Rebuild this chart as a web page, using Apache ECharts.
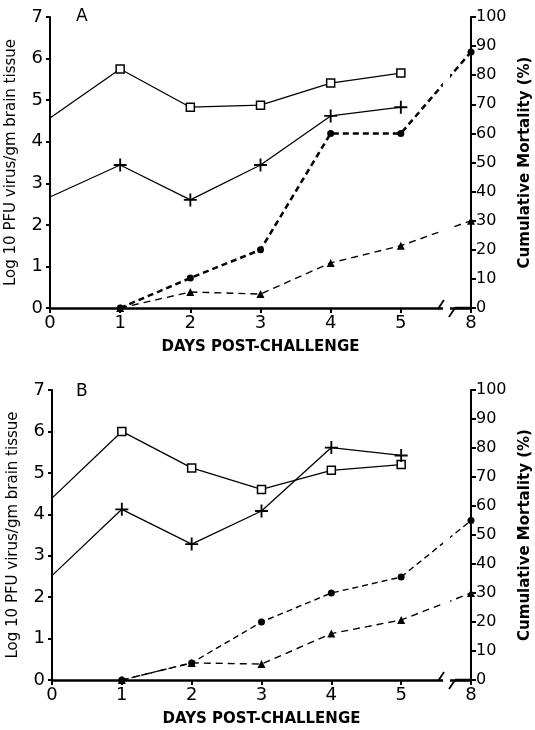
<!DOCTYPE html>
<html><head><meta charset="utf-8">
<script src="https://cdn.jsdelivr.net/npm/echarts@6/dist/echarts.min.js"></script>
<style>html,body{margin:0;padding:0;background:#fff}#c{width:535px;height:730px}</style>
</head><body><div id="c"></div>
<script>
// Days post-challenge (x axis has a break between 5 and 8)
const virusDays = [0, 1, 2, 3, 4, 5];
const mortDays = [1, 2, 3, 4, 5, 8];
const xTicks = [0, 1, 2, 3, 4, 5, 8];
const leftTicks = [0, 1, 2, 3, 4, 5, 6, 7];
const rightTicks = [0, 10, 20, 30, 40, 50, 60, 70, 80, 90, 100];

// Panel A
const aSquares = [4.57, 5.75, 4.83, 4.88, 5.41, 5.65];
const aCrosses = [2.67, 3.44, 2.6, 3.44, 4.62, 4.83];
const aCircles = [0, 10.3, 20, 60, 60, 88];
const aTriangles = [0, 5.5, 4.8, 15.5, 21.4, 30];

// Panel B
const bSquares = [4.39, 6.0, 5.12, 4.6, 5.06, 5.2];
const bCrosses = [2.52, 4.12, 3.28, 4.08, 5.61, 5.42];
const bCircles = [0, 5.9, 20, 30, 35.5, 55];
const bTriangles = [0, 5.9, 5.5, 16, 20.7, 30];

// axis break: day 8 is drawn one unit after day 5
function axisPos(d) { return d <= 5 ? d : 6; }
function pairs(ds, vs, hideFirst) {
  return ds.map((d, i) => {
    const item = { value: [axisPos(d), vs[i]] };
    if (hideFirst && i === 0) item.symbol = 'none';
    return item;
  });
}

const FONT = 'DejaVu Sans';
const plusPath = 'path://M-1,-7h2v6h6v2h-6v6h-2v-6h-6v-2h6z';

function makeX(gi) {
  return {
    type: 'value', gridIndex: gi, min: 0, max: 6, interval: 1,
    name: 'DAYS POST-CHALLENGE', nameLocation: 'middle', nameGap: 32,
    nameTextStyle: { fontFamily: FONT, fontSize: 15, fontWeight: 'bold', color: '#000' },
    axisLine: { show: true, lineStyle: { color: '#000', width: 2.5 } },
    axisTick: { show: true, inside: false, length: 5, lineStyle: { color: '#000', width: 2 } },
    axisLabel: { fontFamily: FONT, fontSize: 18, color: '#000', margin: 6,
      formatter: v => (v === 6 ? String(xTicks[6]) : (v <= 5 ? String(xTicks[v]) : '')) },
    splitLine: { show: false }
  };
}
function makeYL(gi) {
  return {
    type: 'value', gridIndex: gi, min: 0, max: 7, interval: 1, position: 'left',
    name: 'Log 10 PFU virus/gm brain tissue', nameLocation: 'middle', nameGap: 31, nameRotate: 90,
    nameTextStyle: { fontFamily: FONT, fontSize: 15, color: '#000' },
    axisLine: { show: true, lineStyle: { color: '#000', width: 2 } },
    axisTick: { show: true, length: 4, lineStyle: { color: '#000', width: 2 } },
    axisLabel: { fontFamily: FONT, fontSize: 18, color: '#000', margin: 7,
      formatter: v => String(leftTicks[v]) },
    splitLine: { show: false }
  };
}
function makeYR(gi) {
  return {
    type: 'value', gridIndex: gi, min: 0, max: 100, interval: 10, position: 'right',
    name: 'Cumulative Mortality (%)', nameLocation: 'middle', nameGap: 46, nameRotate: 90,
    nameTextStyle: { fontFamily: FONT, fontSize: 15, fontWeight: 'bold', color: '#000' },
    axisLine: { show: true, lineStyle: { color: '#000', width: 2 } },
    axisTick: { show: true, length: 5, lineStyle: { color: '#000', width: 2 } },
    axisLabel: { fontFamily: FONT, fontSize: 16, color: '#000', margin: 5,
      formatter: v => String(rightTicks[v / 10]) },
    splitLine: { show: false }
  };
}

function panelSeries(gi, sq, cr, ci, tr, circleWidth) {
  const xi = gi, yl = gi * 2, yr = gi * 2 + 1;
  return [
    { type: 'line', xAxisIndex: xi, yAxisIndex: yl, data: pairs(virusDays, sq, true),
      symbol: 'rect', symbolSize: 8, showAllSymbol: true,
      itemStyle: { color: '#fff', borderColor: '#000', borderWidth: 1.5 },
      lineStyle: { color: '#000', width: 1.3 }, z: 3 },
    { type: 'line', xAxisIndex: xi, yAxisIndex: yl, data: pairs(virusDays, cr, true),
      symbol: plusPath, symbolSize: 13,
      itemStyle: { color: '#000' },
      lineStyle: { color: '#000', width: 1.3 }, z: 3 },
    { type: 'line', xAxisIndex: xi, yAxisIndex: yr, data: pairs(mortDays, ci, false),
      symbol: 'circle', symbolSize: 7,
      itemStyle: { color: '#000' },
      lineStyle: { color: '#000', width: circleWidth, type: [6, 4] }, z: 3 },
    { type: 'line', xAxisIndex: xi, yAxisIndex: yr, data: pairs(mortDays, tr, false),
      symbol: 'triangle', symbolSize: 8,
      itemStyle: { color: '#000' },
      lineStyle: { color: '#000', width: 1.4, type: [7, 5] }, z: 3 }
  ];
}

const chart = echarts.init(document.getElementById('c'), null, { renderer: 'canvas' });
chart.setOption({
  animation: false,
  backgroundColor: '#fff',
  grid: [
    { left: 50, width: 421, top: 17, height: 291, containLabel: false, outerBoundsMode: 'none' },
    { left: 52, width: 419, top: 390, height: 290, containLabel: false, outerBoundsMode: 'none' }
  ],
  xAxis: [makeX(0), makeX(1)],
  yAxis: [makeYL(0), makeYR(0), makeYL(1), makeYR(1)],
  series: [].concat(
    panelSeries(0, aSquares, aCrosses, aCircles, aTriangles, 2.5),
    panelSeries(1, bSquares, bCrosses, bCircles, bTriangles, 1.4)
  ),
  graphic: []
});

// break marks and panel letters
const g = [];
[0, 1].forEach(gi => {
  const p1 = chart.convertToPixel({ gridIndex: gi }, [5.6, 0]);
  const p2 = chart.convertToPixel({ gridIndex: gi }, [5.7, 0]);
  const top = chart.convertToPixel({ gridIndex: gi }, [5.6, 100]);
  g.push({ type: 'rect', shape: { x: p1[0], y: top[1] - 5, width: p2[0] - p1[0], height: p1[1] - top[1] + 12 },
    style: { fill: '#fff' }, z: 100 });
  g.push({ type: 'line', shape: { x1: p1[0] - 5, y1: p1[1] + 1, x2: p1[0] + 1, y2: p1[1] - 8 },
    style: { stroke: '#000', lineWidth: 1.8 }, z: 101 });
  g.push({ type: 'line', shape: { x1: p2[0] - 1, y1: p2[1] + 9, x2: p2[0] + 5, y2: p2[1] },
    style: { stroke: '#000', lineWidth: 1.8 }, z: 101 });
  g.push({ type: 'line', shape: { x1: p2[0] + 5, y1: p2[1], x2: chart.convertToPixel({ gridIndex: gi }, [6, 0])[0], y2: p2[1] },
    style: { stroke: '#000', lineWidth: 2.5 }, z: 101 });
});
g.push({ type: 'text', left: 76, top: 8, style: { text: 'A', font: '17px "DejaVu Sans"', fill: '#000' }, z: 101 });
g.push({ type: 'text', left: 76, top: 383, style: { text: 'B', font: '17px "DejaVu Sans"', fill: '#000' }, z: 101 });
chart.setOption({ graphic: g });
</script>
</body></html>
